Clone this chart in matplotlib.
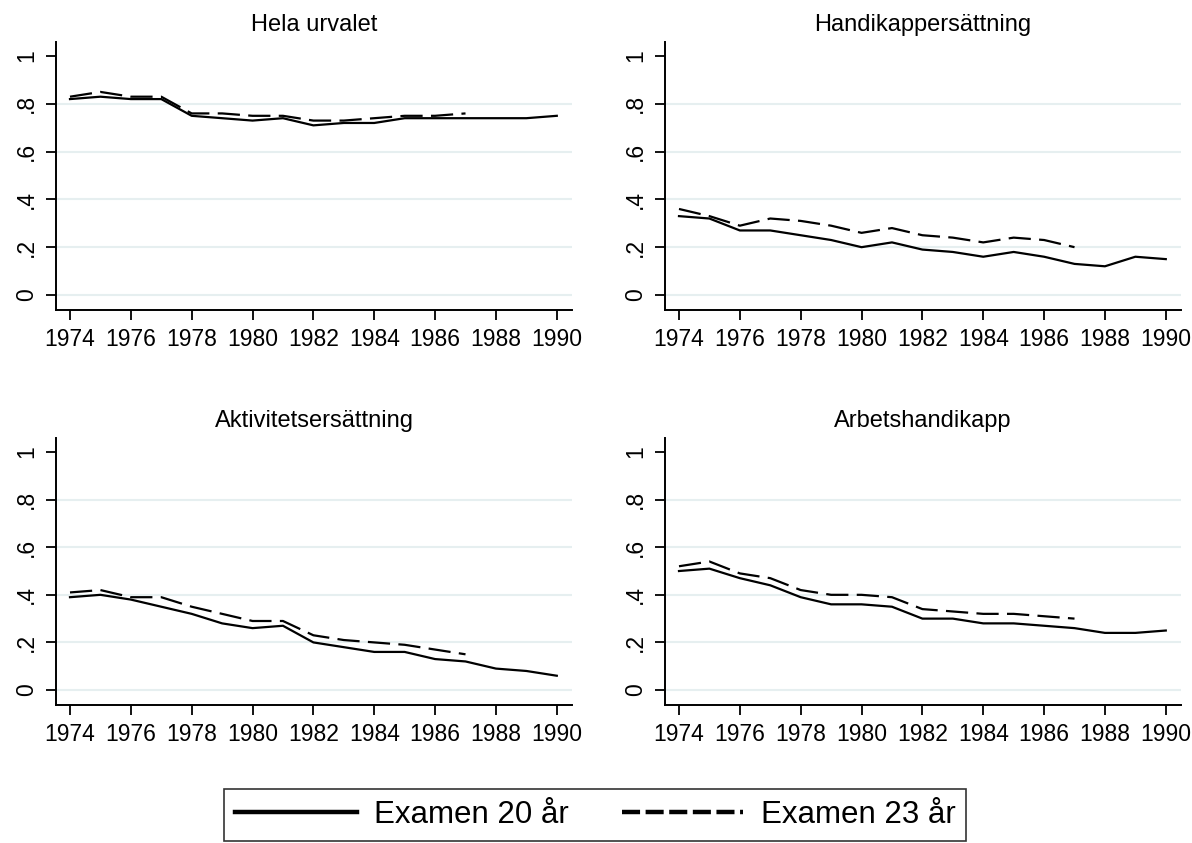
import matplotlib
matplotlib.use("Agg")
import matplotlib.pyplot as plt
from matplotlib.lines import Line2D

plt.rcParams['font.family'] = ['Liberation Sans', 'DejaVu Sans']
plt.rcParams['lines.scale_dashes'] = False

years = list(range(1974, 1991))
years_23 = list(range(1974, 1988))

titles = ["Hela urvalet", "Handikappersättning",
          "Aktivitetsersättning", "Arbetshandikapp"]

# Examen 20 år (1974-1990)
hela_20 = [.82, .83, .82, .82, .75, .74, .73, .74, .71, .72, .72, .74, .74, .74, .74, .74, .75]
handikapp_20 = [.33, .32, .27, .27, .25, .23, .20, .22, .19, .18, .16, .18, .16, .13, .12, .16, .15]
aktivitet_20 = [.39, .40, .38, .35, .32, .28, .26, .27, .20, .18, .16, .16, .13, .12, .09, .08, .06]
arbets_20 = [.50, .51, .47, .44, .39, .36, .36, .35, .30, .30, .28, .28, .27, .26, .24, .24, .25]

# Examen 23 år (1974-1987)
hela_23 = [.83, .85, .83, .83, .76, .76, .75, .75, .73, .73, .74, .75, .75, .76]
handikapp_23 = [.36, .33, .29, .32, .31, .29, .26, .28, .25, .24, .22, .24, .23, .20]
aktivitet_23 = [.41, .42, .39, .39, .35, .32, .29, .29, .23, .21, .20, .19, .17, .15]
arbets_23 = [.52, .54, .49, .47, .42, .40, .40, .39, .34, .33, .32, .32, .31, .30]

series_20 = [hela_20, handikapp_20, aktivitet_20, arbets_20]
series_23 = [hela_23, handikapp_23, aktivitet_23, arbets_23]

yticks = [0, .2, .4, .6, .8, 1]
ytick_labels = ["0", ".2", ".4", ".6", ".8", "1"]
xticks = list(range(1974, 1991, 2))

W, H = 1192, 843
fig = plt.figure(figsize=(W / 100, H / 100), dpi=100)

# pixel boxes (left, top, right, bottom)
boxes = [(56, 42, 572, 310), (665, 42, 1181, 310),
         (56, 438, 572, 705), (665, 438, 1181, 705)]

dash = (16, 6)
grid_col = "#e6eff0"

for i, (l, t, r, b) in enumerate(boxes):
    ax = fig.add_axes([l / W, 1 - b / H, (r - l) / W, (b - t) / H])
    for g in yticks[:-1]:
        ax.axhline(g, color=grid_col, lw=1.5, zorder=0)
    ax.plot(years, series_20[i], color="black", lw=1.6)
    ax.plot(years_23, series_23[i], color="black", lw=1.6, dashes=dash)
    ax.set_xlim(1973.54, 1990.5)
    ax.set_ylim(-0.063, 1.059)
    ax.set_xticks(xticks)
    ax.set_yticks(yticks)
    ax.set_yticklabels(ytick_labels, rotation=90, va="center")
    ax.tick_params(length=7, width=1.3, pad=6, labelsize=16.5)
    ax.spines['top'].set_visible(False)
    ax.spines['right'].set_visible(False)
    ax.spines['left'].set_linewidth(1.4)
    ax.spines['bottom'].set_linewidth(1.4)
    ax.set_title(titles[i], fontsize=17, pad=8)

handles = [Line2D([], [], color="black", lw=3.2),
           Line2D([], [], color="black", lw=3.2, dashes=(13, 4))]
leg = fig.legend(handles, ["Examen 20 år", "Examen 23 år"], ncol=2,
                 loc="center", bbox_to_anchor=(595 / W, 1 - 815 / H),
                 fontsize=22.5, frameon=True, fancybox=False,
                 handlelength=3.9, handletextpad=0.55, columnspacing=1.7,
                 borderpad=0.35, borderaxespad=0)
leg.get_frame().set_edgecolor("black")
leg.get_frame().set_linewidth(1.2)

fig.savefig("out.png", dpi=100)
